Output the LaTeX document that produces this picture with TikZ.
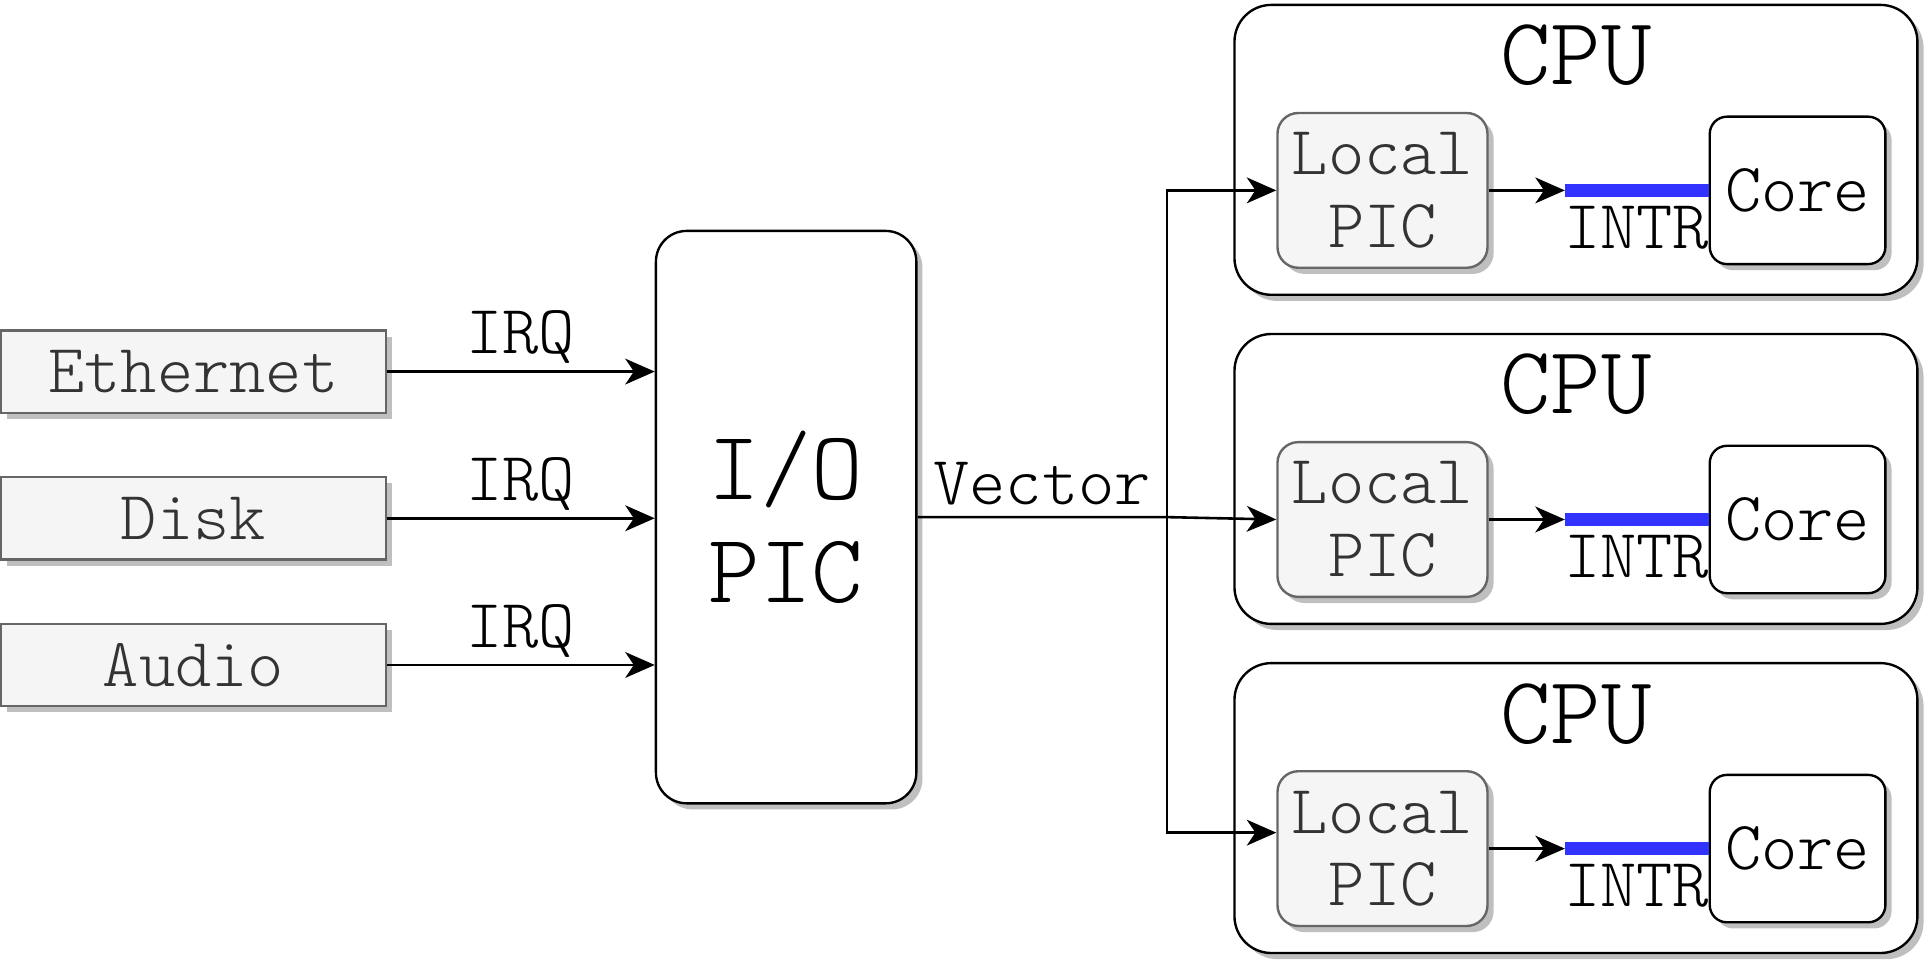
\documentclass[tikz,border=0pt]{standalone}
\usepackage{fontspec}
\setmonofont{Latin Modern Mono Light}
\usetikzlibrary{%
    arrows.meta,
    positioning,
    shadows
    }
\definecolor{picgray}{HTML}{F5F5F5}
\definecolor{picedge}{HTML}{666666}
\definecolor{pictext}{HTML}{333333}
\definecolor{shadegray}{HTML}{BFBFBF}
\definecolor{intrblue}{HTML}{3333FF}
\tikzset{
  shade2/.style={
    drop shadow={
      shadow xshift=0.1cm,
      shadow yshift=-0.1cm,
      fill=shadegray,
      opacity=1
    },
  },
  dev2/.style={
    rectangle,
    minimum width=6.26cm,
    minimum height=1.34cm,
    inner sep=2pt,
    line width=1.1pt,
    draw=picedge,
    fill=picgray,
    text=pictext,
    font=\ttfamily\fontsize{32}{33.6}\selectfont,
    shade2,
  },
  hub2/.style={
    rectangle,
    rounded corners=0.5cm,
    minimum width=4.24cm,
    minimum height=9.32cm,
    align=center,
    line width=1.1pt,
    draw=black,
    fill=white,
    font=\ttfamily\fontsize{45.5}{48}\selectfont,
    shade2,
  },
  cpu2/.style={
    rectangle,
    rounded corners=0.6cm,
    minimum width=11.12cm,
    minimum height=4.72cm,
    line width=1.1pt,
    draw=black,
    fill=white,
    shade2,
  },
  cputitle2/.style={
    inner sep=0pt,
    font=\ttfamily\fontsize{44.5}{46.8}\selectfont,
  },
  localpic2/.style={
    rectangle,
    rounded corners=0.34cm,
    minimum width=3.42cm,
    minimum height=2.52cm,
    inner sep=1pt,
    align=center,
    line width=1.1pt,
    draw=picedge,
    fill=picgray,
    text=pictext,
    font=\ttfamily\fontsize{32}{33.6}\selectfont,
    shade2,
  },
  core2/.style={
    rectangle,
    rounded corners=0.28cm,
    minimum width=2.86cm,
    minimum height=2.4cm,
    inner sep=1pt,
    line width=1.1pt,
    draw=black,
    fill=white,
    font=\ttfamily\fontsize{32}{33.6}\selectfont,
    shade2,
  },
  lbl2/.style={
    inner sep=2pt,
    text=black,
    font=\ttfamily\fontsize{32}{33.6}\selectfont,
  },
  arrow2/.style={
    -{Stealth[length=0.48cm,width=0.42cm,inset=0.14cm]},
    line width=1.2pt,
    black,
  },
  intr2/.style={
    line width=6pt,
    intrblue,
  },
}

\begin{document}
\begin{tikzpicture}[node distance=1.01cm and 2cm]
\useasboundingbox (0,0) rectangle (31.36,15.64);

% devices
\node[dev2] 
  (eth) 
  at (3.15,9.59)
  {Ethernet};
\node[dev2,below=of eth] 
  (disk) 
  {Disk};
\node[dev2,below=of disk] 
  (audio) 
  {Audio};

% io apic
\node[hub2] 
  (iopic) 
  at (12.8,7.22)
  {I/O\\PIC};

% cpus
\node[cpu2] 
  (cpu1) 
  at (25.66,13.2)
  {};
\node[cpu2,below=0.6cm of cpu1] 
  (cpu2) 
  {};
\node[cpu2,below=0.6cm of cpu2] 
  (cpu3) 
  {};

\foreach \i in {1,2,3}{
  \node[cputitle2,below=0.34cm of cpu\i.north] 
    (title\i) 
    {CPU};
  \node[localpic2,anchor=west] 
    (lpic\i) 
    at ([xshift=0.7cm,yshift=-0.66cm]cpu\i.west)
    {Local\\PIC};
  \node[core2,right=3.58cm of lpic\i] 
    (core\i) 
    {Core};
  \coordinate[right=1.24cm of lpic\i.east] (in\i);
  \draw[intr2]
    (in\i) -- node[lbl2,below=0.08cm] (intrlbl\i) {INTR} (core\i.west);
}

\coordinate (bus) at (19.0,7.22);

\begin{scope}[arrow2]
\draw
  (eth) -- node[lbl2,above=1pt] (irq1) {IRQ} (eth -| iopic.west);
\draw
  (disk) -- node[lbl2,above=1pt] (irq2) {IRQ} (disk -| iopic.west);
\draw
  (audio) -- node[lbl2,above=1pt] (irq3) {IRQ} (audio -| iopic.west);
\draw
  (iopic.east) -- node[lbl2,above=3pt] (vec) {Vector} (bus) -- (lpic2.west);
\draw
  (bus) |- (lpic1.west);
\draw
  (bus) |- ([yshift=0.26cm]lpic3.west);
\foreach \i in {1,2,3}{
  \draw
    (lpic\i.east) -- (in\i);
}
\end{scope}
\end{tikzpicture}
\end{document}
